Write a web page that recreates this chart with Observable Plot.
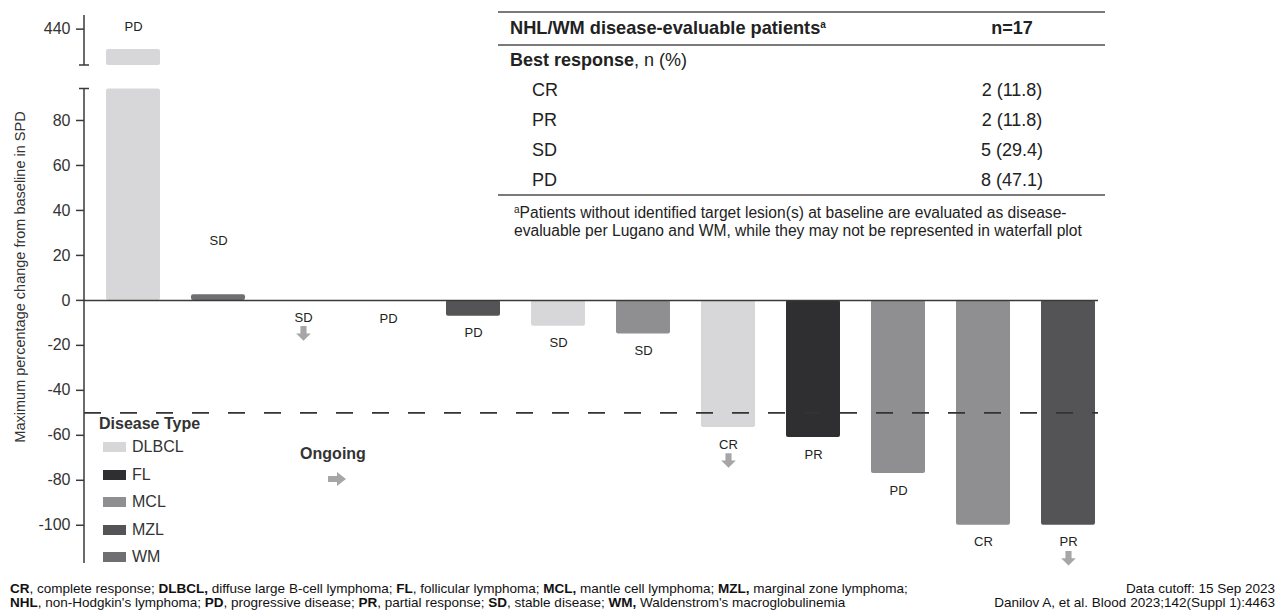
<!DOCTYPE html>
<html><head><meta charset="utf-8">
<script src="https://cdn.jsdelivr.net/npm/d3@7"></script>
<script src="https://cdn.jsdelivr.net/npm/@observablehq/plot@0.6"></script>
<style>
body{margin:0;background:#fff;font-family:"Liberation Sans",Arial,sans-serif;color:#222}
#wrap{position:relative;width:1281px;height:611px;overflow:hidden;background:#fff}
.abs{position:absolute;white-space:nowrap}
.rule{position:absolute;height:0;border-top:2px solid #7a7a7a}
</style></head><body><div id="wrap"></div>
<script>
// ---- data ----
const patientIds = ["P01","P02","P03","P04","P05","P06","P07","P08","P09","P10","P11","P12"];
const changeFromBaseline = [431, 2.5, 0, -0.5, -7, -11.5, -15, -56.5, -61, -77, -100, -100];
const diseaseType = ["DLBCL","WM","DLBCL","FL","MZL","DLBCL","MCL","DLBCL","FL","MCL","MCL","MZL"];
const bestResponse = ["PD","SD","SD","PD","PD","SD","SD","CR","PR","PD","CR","PR"];
const ongoing = [false,false,true,false,false,false,false,true,false,false,false,true];
const diseaseTypes = ["DLBCL","FL","MCL","MZL","WM"];
const diseasePalette = ["#d7d7d9","#2f2f31","#8f8f92","#545456","#6f6f71"];
const yTicks = [440,80,60,40,20,0,-20,-40,-60,-80,-100];
const yBreak = [94, 424];
const yExtent = [-117, 446];
const thresholdLine = -50;
const responseCategories = ["CR","PR","SD","PD"];
const responseCounts = [2,2,5,8];
const responsePercents = ["11.8","11.8","29.4","47.1"];
const nEvaluable = 17;

const data = patientIds.map((id,i)=>({id, value: changeFromBaseline[i], disease: diseaseType[i], response: bestResponse[i], ongoing: ongoing[i]}));

const arrowDown = {draw(ctx, size){
  const r = Math.sqrt(size/Math.PI), s = 0.42*r;
  ctx.moveTo(-s,-r); ctx.lineTo(s,-r); ctx.lineTo(s,0); ctx.lineTo(r,0);
  ctx.lineTo(0,r); ctx.lineTo(-r,0); ctx.lineTo(-s,0); ctx.closePath();
}};

function brokenAxisLine(index, scales, values, dimensions){
  const g = d3.create("svg:g").attr("stroke","#3a3a3a").attr("stroke-width",1.5);
  const x0 = dimensions.marginLeft;
  for (const [a,b] of [[yExtent[0], yBreak[0]], [yBreak[1], yExtent[1]]]) {
    g.append("line").attr("x1",x0).attr("x2",x0).attr("y1",scales.y(a)).attr("y2",scales.y(b));
  }
  for (const v of yBreak) {
    g.append("line").attr("x1",x0-5).attr("x2",x0+5).attr("y1",scales.y(v)).attr("y2",scales.y(v));
  }
  return g.node();
}

const chart = Plot.plot({
  width: 1281, height: 578,
  marginLeft: 84, marginRight: 183, marginTop: 0, marginBottom: 0,
  style: {fontFamily: "Liberation Sans, Arial, sans-serif", color: "#333", background: "transparent", overflow: "visible"},
  x: {type: "band", domain: patientIds, range: [87, 1113], paddingInner: 0.37, paddingOuter: 0.185, axis: null},
  y: {type: "linear", domain: [yExtent[0], yBreak[0], yBreak[1], yExtent[1]], range: [563, 88.5, 65, 15], axis: null},
  color: {type: "ordinal", domain: diseaseTypes, range: diseasePalette},
  marks: [
    Plot.barY(data, {x: "id", y1: 0, y2: d => Math.min(d.value, yBreak[0]), fill: "disease", rx: 2}),
    Plot.barY(data.filter(d => d.value > yBreak[1]), {x: "id", y1: yBreak[1], y2: "value", fill: "disease", rx: 2}),
    Plot.ruleY([0], {stroke: "#3a3a3a", strokeWidth: 1.5}),
    Plot.ruleY([thresholdLine], {stroke: "#333", strokeWidth: 1.6, strokeDasharray: "17,19"}),
    Plot.axisY({ticks: yTicks, tickSize: 8, tickPadding: 6, fontSize: 16, label: null, stroke: "#3a3a3a", strokeWidth: 1.5, fill: "#333",
      tickFormat: d => d < 0 ? "-" + Math.abs(d) : String(d)}),
    brokenAxisLine,
    Plot.text(data.filter(d => d.value > 0), {x: "id", y: d => d.value > yBreak[1] ? d.value + 10 : d.value + 24, text: "response", fontSize: 13, fill: "#222"}),
    Plot.text(data.filter(d => d.value <= 0), {x: "id", y: "value", dy: 17, text: "response", fontSize: 13, fill: "#222"}),
    Plot.dot(data.filter(d => d.ongoing), {x: "id", y: "value", dy: 33, symbol: arrowDown, r: 7.3, fill: "#a6a6a6", stroke: null})
  ]
});
const wrap = document.getElementById("wrap");
chart.style.position = "absolute"; chart.style.left = "0px"; chart.style.top = "0px";
wrap.appendChild(chart);

function addText(html, left, cy, opts = {}){
  const el = document.createElement("div");
  el.className = "abs";
  el.innerHTML = html;
  const lh = opts.lh || 20;
  el.style.lineHeight = lh + "px";
  el.style.top = (cy - lh/2) + "px";
  el.style.fontSize = (opts.size || 16) + "px";
  if (opts.bold) el.style.fontWeight = "bold";
  if (opts.color) el.style.color = opts.color;
  if (opts.align === "center") { el.style.left = left + "px"; el.style.transform = "translateX(-50%)"; }
  else if (opts.align === "right") { el.style.right = left + "px"; }
  else el.style.left = left + "px";
  wrap.appendChild(el);
  return el;
}
function addRule(x1, x2, y){
  const el = document.createElement("div");
  el.className = "rule";
  el.style.left = x1 + "px"; el.style.width = (x2 - x1) + "px"; el.style.top = (y - 1) + "px";
  wrap.appendChild(el);
}

// y-axis label
const yl = document.createElement("div");
yl.className = "abs";
yl.textContent = "Maximum percentage change from baseline in SPD";
Object.assign(yl.style, {left: "20px", top: "277px", fontSize: "14.5px", color: "#333", transform: "translate(-50%,-50%) rotate(-90deg)"});
wrap.appendChild(yl);

// table
addRule(498, 1105, 12);
addText('NHL/WM disease-evaluable patients<sup style="font-size:10px;vertical-align:6px;line-height:0">a</sup>', 510, 28, {size: 18.2, bold: true});
addText('n=' + nEvaluable, 1012, 28, {size: 18, bold: true, align: "center"});
addRule(498, 1105, 45);
addText('<b>Best response</b>, n (%)', 510, 60, {size: 18});
responseCategories.forEach((c, i) => {
  const cy = 89.5 + i * 30;
  addText(c, 532, cy, {size: 18});
  addText(`${responseCounts[i]} (${responsePercents[i]})`, 1012, cy, {size: 18, align: "center"});
});
addRule(498, 1105, 195);
addText('<sup style="font-size:10px;vertical-align:5px;line-height:0">a</sup>Patients without identified target lesion(s) at baseline are evaluated as disease-', 514, 213, {size: 15.6, lh: 18});
addText('evaluable per Lugano and WM, while they may not be represented in waterfall plot', 514, 231, {size: 15.6, lh: 18});

// legend
addText('Disease Type', 99, 424, {size: 16, bold: true, color: "#333"});
diseaseTypes.forEach((t, i) => {
  const cy = 447 + i * 27.5;
  const sw = document.createElement("div");
  Object.assign(sw.style, {position: "absolute", left: "103px", top: (cy - 5) + "px", width: "23px", height: "10px", background: diseasePalette[i]});
  wrap.appendChild(sw);
  addText(t, 132, cy, {size: 16, color: "#333"});
});

// ongoing
addText('Ongoing', 333, 454, {size: 16, bold: true, align: "center", color: "#333"});
const oa = document.createElement("div");
oa.className = "abs";
oa.style.left = "328px"; oa.style.top = "472px";
oa.innerHTML = '<svg width="18" height="14" viewBox="0 0 18 14"><path d="M0,4 L9,4 L9,0 L18,7 L9,14 L9,10 L0,10 Z" fill="#a6a6a6"/></svg>';
wrap.appendChild(oa);

// footer
addText('<b>CR</b>, complete response; <b>DLBCL,</b> diffuse large B-cell lymphoma; <b>FL</b>, follicular lymphoma; <b>MCL,</b> mantle cell lymphoma; <b>MZL,</b> marginal zone lymphoma;', 10, 589, {size: 13.5, lh: 14, color: "#111"});
addText('<b>NHL</b>, non-Hodgkin\'s lymphoma; <b>PD</b>, progressive disease; <b>PR</b>, partial response; <b>SD</b>, stable disease; <b>WM,</b> Waldenstrom\'s macroglobulinemia', 10, 603, {size: 13.5, lh: 14, color: "#111"});
addText('Data cutoff: 15 Sep 2023', 6, 589, {size: 13.5, lh: 14, align: "right", color: "#111"});
addText('Danilov A, et al. Blood 2023;142(Suppl 1):4463', 6, 603, {size: 13.5, lh: 14, align: "right", color: "#111"});
</script></body></html>
